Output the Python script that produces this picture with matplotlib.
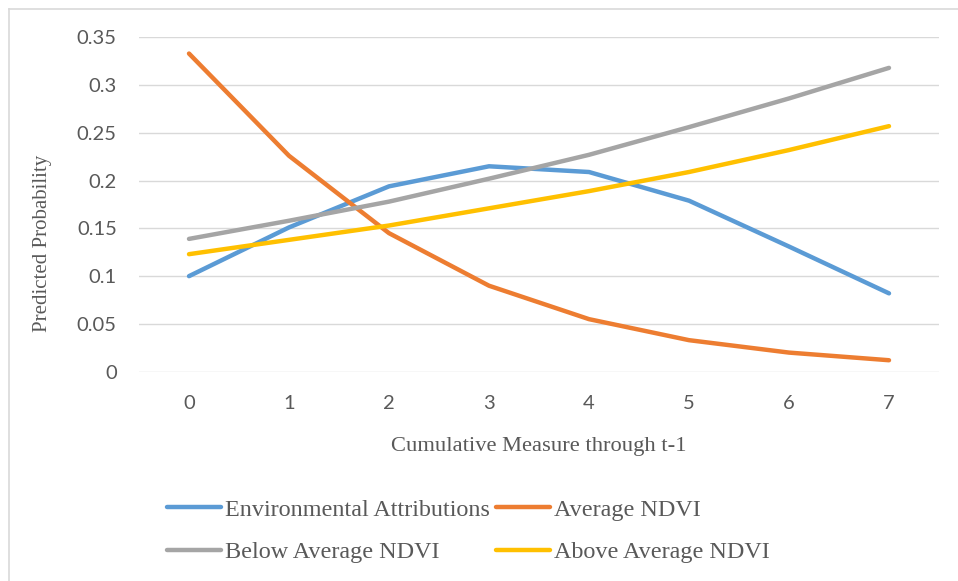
import matplotlib.pyplot as plt
from matplotlib.lines import Line2D

# categories and series values
categories = ["0", "1", "2", "3", "4", "5", "6", "7"]
env_attr = [0.100, 0.151, 0.194, 0.215, 0.209, 0.179, 0.131, 0.082]
avg_ndvi = [0.333, 0.226, 0.145, 0.090, 0.055, 0.033, 0.020, 0.012]
below_avg = [0.139, 0.158, 0.178, 0.202, 0.227, 0.256, 0.286, 0.318]
above_avg = [0.123, 0.138, 0.153, 0.171, 0.189, 0.209, 0.232, 0.257]
y_ticks = [0, 0.05, 0.1, 0.15, 0.2, 0.25, 0.3, 0.35]
y_tick_labels = ["0", "0.05", "0.1", "0.15", "0.2", "0.25", "0.3", "0.35"]

series = [
    ("Environmental Attributions", env_attr, "#5B9BD5"),
    ("Average NDVI", avg_ndvi, "#ED7D31"),
    ("Below Average NDVI", below_avg, "#A5A5A5"),
    ("Above Average NDVI", above_avg, "#FFC000"),
]

W, H = 958, 581
fig = plt.figure(figsize=(W / 100, H / 100), dpi=100)
ax = fig.add_axes([139 / W, 1 - 371.7 / H, 800 / W, 334.4 / H])

x = list(range(len(categories)))
for name, vals, color in series:
    ax.plot(x, vals, color=color, lw=3.2, solid_capstyle="round",
            solid_joinstyle="round", label=name, zorder=3)

ax.set_xlim(-0.5, len(categories) - 0.5)
ax.set_ylim(0, 0.35)
ax.set_yticks(y_ticks)
ax.set_yticklabels(y_tick_labels)
ax.set_xticks(x)
ax.set_xticklabels(categories)
ax.grid(axis="y", color="#D9D9D9", lw=1.0)
ax.set_axisbelow(True)
for s in ax.spines.values():
    s.set_visible(False)
ax.tick_params(length=0, labelsize=14.5, labelcolor="#595959")
for lbl in ax.get_yticklabels() + ax.get_xticklabels():
    lbl.set_family("Lato")
ax.tick_params(axis="y", pad=16)
ax.tick_params(axis="x", pad=17)

fig.text(539 / W, 1 - 447 / H, "Cumulative Measure through t-1",
         family="Liberation Serif", fontsize=16.2, color="#595959",
         ha="center", va="center")
fig.text(43 / W, 1 - 243 / H, "Predicted Probability", rotation=90,
         family="Liberation Serif", fontsize=15, color="#595959",
         ha="center", va="center")

# legend, two rows like the Excel original (matplotlib fills by column)
order = [0, 2, 1, 3]
handles = [Line2D([], [], color=series[i][2], lw=3.2, solid_capstyle="round") for i in order]
labels = [series[i][0] for i in order]
leg = fig.legend(handles, labels, ncol=2, frameon=False,
                 loc="upper left", bbox_to_anchor=(167 / W, 1 - 499 / H),
                 prop={"family": "Liberation Serif", "size": 17.4},
                 handlelength=2.25, handletextpad=0.15, columnspacing=0.25,
                 labelspacing=0.85, borderaxespad=0, borderpad=0)
for t in leg.get_texts():
    t.set_color("#595959")

# chart border (top and left visible in the crop)
fig.add_artist(Line2D([9 / W, 1], [1 - 9 / H, 1 - 9 / H], color="#D9D9D9", lw=1.2))
fig.add_artist(Line2D([9 / W, 9 / W], [0, 1 - 9 / H], color="#D9D9D9", lw=1.2))

fig.savefig("out.png", dpi=100)
